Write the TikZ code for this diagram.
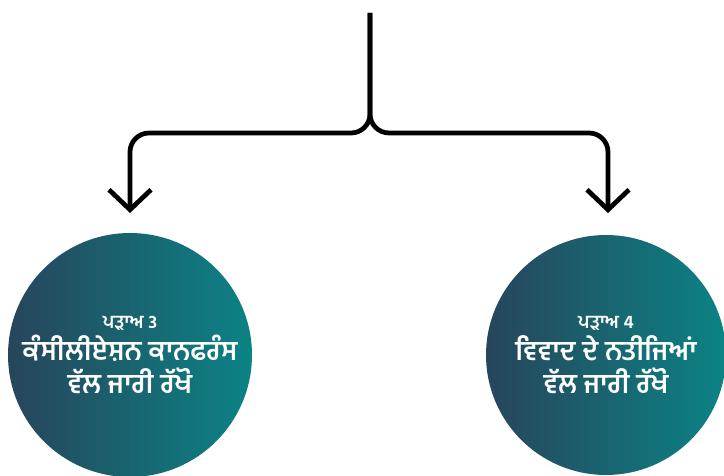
\documentclass[tikz,border=0pt]{standalone}
\usepackage{fontspec}
\newfontfamily\gurmukhi[Script=Gurmukhi]{Hind Jalandhar}
\usetikzlibrary{arrows.meta}

\definecolor{stagedark}{HTML}{27455B}
\definecolor{stageteal}{HTML}{0B8385}

\newcommand{\steplabel}{\fontsize{10.5}{13}\selectfont}

\tikzset{
  stage/.style={circle, inner sep=0pt, left color=stagedark, right color=stageteal,
    text=white, align=center, font=\gurmukhi\bfseries\fontsize{15.5}{17}\selectfont},
  branch/.style={line width=2.7pt, rounded corners=0.38cm,
    -{Straight Barb[length=0.4cm, width=0.84cm]}}
}

\begin{document}
\begin{tikzpicture}[x=0.02cm, y=-0.02cm]
    % Frame of the picture
    \useasboundingbox (0,0) rectangle (724,476);
    \clip (0,0) rectangle (724,476);

    % The two stages
    \node[stage, minimum size=4.88cm] (stagethree) at (130,355)
      {{\steplabel ਪੜਾਅ 3}\\[1pt] ਕੰਸੀਲੀਏਸ਼ਨ ਕਾਨਫਰੰਸ\\[1.5pt] ਵੱਲ ਜਾਰੀ ਰੱਖੋ};
    \node[stage, minimum size=4.8cm] (stagefour) at (606,355)
      {{\steplabel ਪੜਾਅ 4}\\[1pt] ਵਿਵਾਦ ਦੇ ਨਤੀਜਿਆਂ\\[1.5pt] ਵੱਲ ਜਾਰੀ ਰੱਖੋ};

    % Split point and arrow ends
    \coordinate (start) at (370,13);
    \coordinate (tipthree) at (130,213);
    \coordinate (tipfour) at (608,213);

    % The forked arrow
    \draw[branch] (start) -- (370,133) -| (tipthree);
    \draw[branch] (start) -- (370,133) -| (tipfour);
\end{tikzpicture}
\end{document}
